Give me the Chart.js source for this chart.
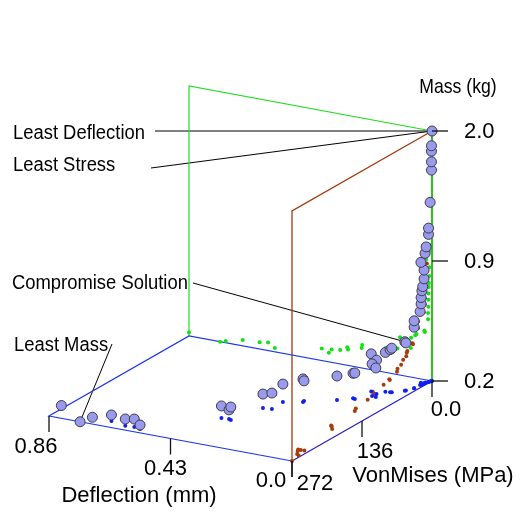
<!DOCTYPE html>
<html>
<head>
<meta charset="utf-8">
<script src="https://cdn.jsdelivr.net/npm/chart.js@4.4.1/dist/chart.umd.min.js"></script>
<style>
  html, body { margin: 0; padding: 0; background: #fff; }
  #wrap { width: 522px; height: 513px; }
</style>
</head>
<body>
<div id="wrap"><canvas id="chart" width="522" height="513"></canvas></div>
<script>
// --- Data (one entry per design point) ---
const deflection = [0.86, 0.75, 0.73, 0.67, 0.61, 0.58, 0.556,
    0.39, 0.365, 0.355, 0.325, 0.297, 0.30, 0.247, 0.249, 0.165,
    0.13, 0.122, 0.113, 0.087, 0.09, 0.075, 0.074, 0.059, 0.055, 0.027, 0.025, 0.014, 0.014,
    0.013, 0.013, 0.013, 0.012, 0.011, 0.010, 0.010, 0.021, 0.010, 0.008, 0.005, 0.005,
    0.003, 0.001, 0.001, 0.001, 0.001, 0.0];
const vonMises = [248, 272, 259, 255, 261, 260, 262,
    195, 194, 196, 150, 148, 125, 115, 112, 94,
    82, 83, 56, 60, 67, 68, 50, 49, 48, 38, 37, 27, 27,
    16, 14, 14, 13, 12, 10, 10, 10, 8, 7, 4, 4,
    2, 0.5, 0.5, 0.5, 0.5, 0];
const mass = [0.22, 0.20, 0.21, 0.235, 0.24, 0.247, 0.223,
    0.27, 0.253, 0.276, 0.282, 0.293, 0.305, 0.334, 0.317, 0.34,
    0.346, 0.352, 0.42, 0.398, 0.387, 0.37, 0.43, 0.449, 0.457, 0.486, 0.478, 0.556, 0.593,
    0.629, 0.67, 0.707, 0.745, 0.768, 0.81, 0.861, 0.904, 0.98, 1.033, 1.133, 1.186,
    1.40, 1.67, 1.74, 1.83, 1.876, 2.0];

const deflTicks = [0.0, 0.43, 0.86];
const deflTickLabels = ['0.0', '0.43', '0.86'];
const stressTicks = [0, 136, 272];
const stressTickLabels = ['0.0', '136', '272'];
const massTicks = [0.2, 0.9, 2.0];
const massTickLabels = ['0.2', '0.9', '2.0'];

const noteTexts = ['Least Deflection', 'Least Stress', 'Compromise Solution', 'Least Mass'];
const notePoints = [46, 46, 25, 1];

// --- View / layout (screen px) ---
const ORIGIN = { x: 432, y: 381 };      // deflection 0, stress 0, mass min
const D_AXIS = { x: -243, y: -45 };
const S_AXIS = { x: -140, y: 80 };
const M_HEIGHT = 250;
const massTickFrac = [0, 0.48, 1];      // where the mass ticks sit up the axis

const D_MAX = deflTicks[deflTicks.length - 1];
const S_MAX = stressTicks[stressTicks.length - 1];
const M_MIN = massTicks[0];
const M_MAX = massTicks[massTicks.length - 1];

const deflLabelOff = [[-21, 20], [-5, 30], [-13, 31]];
const stressLabelOff = [[14, 29], [13, 31], [23, 23]];
const noteAnchor = [[13, 133, 155, 131], [13, 165, 151, 168], [12, 283, 193, 283], [14, 345, 112, 344]];

const FONT = '"Liberation Sans", Arial, sans-serif';

function massFrac(m) {
    for (let i = 1; i < massTicks.length; i++) {
        if (m <= massTicks[i] || i === massTicks.length - 1) {
            const t = (m - massTicks[i - 1]) / (massTicks[i] - massTicks[i - 1]);
            return massTickFrac[i - 1] + t * (massTickFrac[i] - massTickFrac[i - 1]);
        }
    }
}

function project(d, s, m) {
    const a = d / D_MAX, b = s / S_MAX, c = massFrac(m);
    return {
        x: ORIGIN.x + a * D_AXIS.x + b * S_AXIS.x,
        y: ORIGIN.y + a * D_AXIS.y + b * S_AXIS.y - c * M_HEIGHT
    };
}

const points = deflection.map((d, i) => project(d, vonMises[i], mass[i]));
const floorShadow = deflection.map((d, i) => project(d, vonMises[i], M_MIN));
const backShadow = deflection.map((d, i) => project(d, 0, mass[i]));
const sideShadow = deflection.map((d, i) => project(0, vonMises[i], mass[i]));

function lineSet(pts, color, width, order) {
    return {
        data: pts, showLine: true, pointRadius: 0, borderColor: color,
        borderWidth: width, fill: false, tension: 0, order: order
    };
}
function dotSet(pts, color, order) {
    return {
        data: pts, pointRadius: 2, borderWidth: 0, backgroundColor: color,
        pointHoverRadius: 2, order: order
    };
}

const datasets = [
    {
        data: points, pointRadius: 5, pointHoverRadius: 5,
        backgroundColor: '#9a9aec', borderColor: '#3c3c50', borderWidth: 1, order: 0
    },
    dotSet(floorShadow, '#1020f0', 2),
    dotSet(backShadow, '#12e012', 2),
    dotSet(sideShadow, '#a63c0c', 2),
    // floor
    lineSet([project(0, 0, M_MIN), project(D_MAX, 0, M_MIN), project(D_MAX, S_MAX, M_MIN), project(0, S_MAX, M_MIN)], '#1c36e6', 1.2, 3),
    lineSet([project(0, S_MAX, M_MIN), project(0, 0, M_MIN)], '#2a1cc8', 1.2, 3),
    // back wall
    lineSet([project(D_MAX, 0, M_MIN), project(D_MAX, 0, M_MAX), project(0, 0, M_MAX)], '#22dd22', 1.2, 3),
    lineSet([project(0, 0, M_MIN), project(0, 0, M_MAX)], '#3cb62a', 2.2, 3),
    // side wall
    lineSet([project(0, S_MAX, M_MIN), project(0, S_MAX, M_MAX), project(0, 0, M_MAX)], '#a23a0e', 1.3, 3)
];

function drawText(ctx, text, x, y, align, size, squeeze) {
    ctx.save();
    ctx.translate(x, y);
    ctx.scale(squeeze || 1, 1);
    ctx.font = size + 'px ' + FONT;
    ctx.fillStyle = '#000';
    ctx.textAlign = align;
    ctx.textBaseline = 'middle';
    ctx.fillText(text, 0, 0);
    ctx.restore();
}

const axesPlugin = {
    id: 'axes3d',
    beforeDatasetsDraw(chart) {
        const ctx = chart.ctx, xs = chart.scales.x, ys = chart.scales.y;
        ctx.save();
        ctx.strokeStyle = '#000';
        ctx.lineWidth = 1;
        notePoints.forEach((idx, i) => {
            const p = points[idx];
            ctx.beginPath();
            ctx.moveTo(noteAnchor[i][2], noteAnchor[i][3]);
            ctx.lineTo(xs.getPixelForValue(p.x), ys.getPixelForValue(p.y));
            ctx.stroke();
        });
        ctx.restore();
    },
    afterDatasetsDraw(chart) {
        const ctx = chart.ctx, xs = chart.scales.x, ys = chart.scales.y;
        const px = p => ({ x: xs.getPixelForValue(p.x), y: ys.getPixelForValue(p.y) });
        ctx.save();
        ctx.strokeStyle = '#111';
        ctx.lineWidth = 1.3;
        const tick = (p, dx, dy) => {
            ctx.beginPath();
            ctx.moveTo(p.x, p.y);
            ctx.lineTo(p.x + dx, p.y + dy);
            ctx.stroke();
        };
        deflTicks.forEach((v, i) => {
            const p = px(project(v, S_MAX, M_MIN));
            tick(p, 0, 16);
            drawText(ctx, deflTickLabels[i], p.x + deflLabelOff[i][0], p.y + deflLabelOff[i][1], 'center', 22);
        });
        stressTicks.forEach((v, i) => {
            const p = px(project(0, v, M_MIN));
            tick(p, 0, 16);
            drawText(ctx, stressTickLabels[i], p.x + stressLabelOff[i][0], p.y + stressLabelOff[i][1], 'center', 22);
        });
        massTicks.forEach((v, i) => {
            const p = px(project(0, 0, v));
            tick(p, 16, 0);
            drawText(ctx, massTickLabels[i], p.x + 32, p.y + 1, 'left', 22);
        });
        drawText(ctx, 'Deflection (mm)', 139, 496, 'center', 22);
        drawText(ctx, 'VonMises (MPa)', 433, 476, 'center', 22);
        drawText(ctx, 'Mass (kg)', 458, 87, 'center', 21, 0.84);
        noteTexts.forEach((t, i) => {
            drawText(ctx, t, noteAnchor[i][0], noteAnchor[i][1], 'left', 20, 0.92);
        });
        ctx.restore();
    }
};

const chart = new Chart(document.getElementById('chart').getContext('2d'), {
    type: 'scatter',
    data: { datasets: datasets },
    options: {
        responsive: false,
        animation: false,
        layout: { padding: 0, autoPadding: false },
        plugins: { legend: { display: false }, tooltip: { enabled: false } },
        scales: {
            x: { type: 'linear', display: false, min: 0, max: 522 },
            y: { type: 'linear', display: false, min: 0, max: 513, reverse: true }
        }
    },
    plugins: [axesPlugin]
});
</script>
</body>
</html>
